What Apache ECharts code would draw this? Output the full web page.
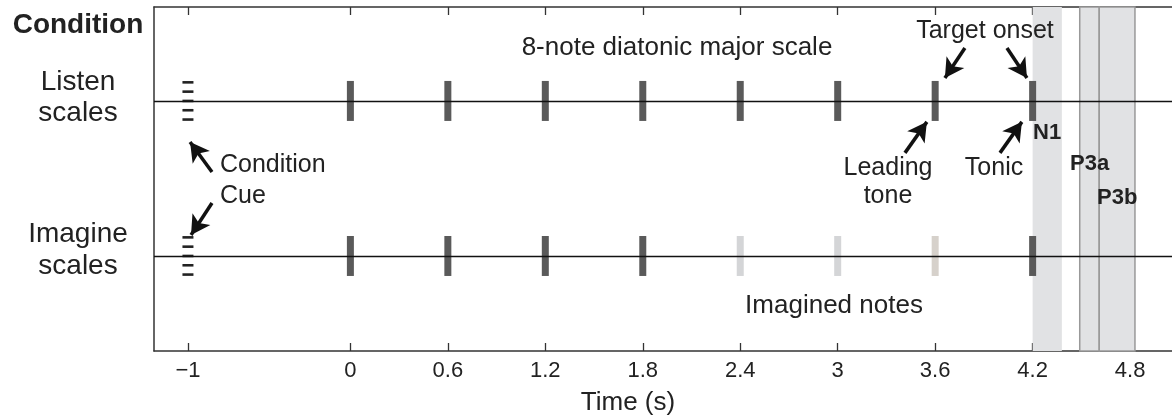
<!DOCTYPE html>
<html>
<head>
<meta charset="utf-8">
<script src="https://cdn.jsdelivr.net/npm/echarts@6/dist/echarts.min.js"></script>
<style>
html,body{margin:0;padding:0;background:#fff;}
#c{width:1172px;height:419px;}
</style>
</head>
<body>
<div id="c"></div>
<script>
// ---- data ----
const tickValues = [-1, 0, 0.6, 1.2, 1.8, 2.4, 3, 3.6, 4.2, 4.8];
const listenNotes = [0, 0.6, 1.2, 1.8, 2.4, 3.0, 3.6, 4.2];
const imaginePlayedNotes = [0, 0.6, 1.2, 1.8, 4.2];
const imagineSilentNotes = [2.4, 3.0];
const imagineLeadingNote = [3.6];
const cueTime = -1;
const cueOffsets = [-0.12, -0.06, 0, 0.06, 0.12];
const rowListen = 2;
const rowImagine = 1;
const bandN1 = [4.2, 4.38];
const bandP3a = [4.49, 4.61];
const bandP3b = [4.61, 4.83];
// arrows: [tailX, tailY, headX, headY]
const arrows = [
  [-0.852, 1.542, -0.987, 1.735],
  [-0.852, 1.342, -0.981, 1.135],
  [3.783, 2.342, 3.660, 2.148],
  [4.042, 2.342, 4.165, 2.148],
  [3.414, 1.665, 3.549, 1.865],
  [3.999, 1.665, 4.134, 1.865]
];

const FONT = "'Liberation Sans', Arial, sans-serif";
const chart = echarts.init(document.getElementById('c'));

const fmt = v => (v < 0 ? '\u2212' + Math.abs(v) : String(v));

function txt(text, x, y, opts) {
  return {
    type: 'text', x: x, y: y, z: 100, zlevel: 0,
    style: Object.assign({
      text: text, font: '25px ' + FONT, fill: '#222',
      textAlign: 'center', textVerticalAlign: 'middle'
    }, opts || {})
  };
}

const cueData = [];
[rowListen, rowImagine].forEach(r => cueOffsets.forEach(o => cueData.push([cueTime, r + o])));

const axisLineStyle = { color: '#333', width: 1.5 };
const option = {
  animation: false,
  backgroundColor: '#fff',
  grid: { left: 154, right: 0, top: 7, bottom: 68 },
  xAxis: [{
    type: 'value', min: -1.209, max: 5.058, position: 'bottom',
    axisLine: { show: true, onZero: false, lineStyle: axisLineStyle },
    axisTick: { show: true, inside: true, length: 8, customValues: tickValues, lineStyle: { color: '#333', width: 1.3 } },
    axisLabel: { show: true, customValues: tickValues, formatter: fmt, margin: 9, fontSize: 22, color: '#222', fontFamily: FONT },
    splitLine: { show: false }
  }, {
    type: 'value', min: -1.209, max: 5.058, position: 'top',
    axisLine: { show: true, onZero: false, lineStyle: axisLineStyle },
    axisTick: { show: true, inside: true, length: 8, customValues: tickValues, lineStyle: { color: '#333', width: 1.3 } },
    axisLabel: { show: false },
    splitLine: { show: false }
  }],
  yAxis: {
    type: 'value', min: 0.387, max: 2.606,
    axisLine: { show: true, onZero: false, lineStyle: axisLineStyle },
    axisTick: { show: false }, axisLabel: { show: false }, splitLine: { show: false }
  },
  series: [
    {
      name: 'bands', type: 'scatter', data: [], z: 1, silent: true,
      markArea: {
        silent: true,
        data: [
          [{ xAxis: bandN1[0], itemStyle: { color: '#e1e2e4', borderWidth: 0 } }, { xAxis: bandN1[1] }],
          [{ xAxis: bandP3a[0], itemStyle: { color: '#e1e2e4', borderColor: '#999', borderWidth: 1.5 } }, { xAxis: bandP3a[1] }],
          [{ xAxis: bandP3b[0], itemStyle: { color: '#e1e2e4', borderColor: '#999', borderWidth: 1.5 } }, { xAxis: bandP3b[1] }]
        ]
      }
    },
    {
      name: 'rows', type: 'scatter', data: [], z: 3, silent: true,
      markLine: {
        silent: true, symbol: ['none', 'none'], label: { show: false },
        lineStyle: { color: '#111', width: 1.3, type: 'solid' },
        data: [{ yAxis: rowListen }, { yAxis: rowImagine }]
      }
    },
    {
      name: 'listen', type: 'scatter', z: 4, symbol: 'rect', symbolSize: [7, 40],
      itemStyle: { color: '#5a5a5a', opacity: 1 },
      data: listenNotes.map(t => [t, rowListen])
    },
    {
      name: 'imaginePlayed', type: 'scatter', z: 4, symbol: 'rect', symbolSize: [7, 40],
      itemStyle: { color: '#5a5a5a', opacity: 1 },
      data: imaginePlayedNotes.map(t => [t, rowImagine])
    },
    {
      name: 'imagineSilent', type: 'scatter', z: 4, symbol: 'rect', symbolSize: [7, 40],
      itemStyle: { color: '#d4d5d7', opacity: 1 },
      data: imagineSilentNotes.map(t => [t, rowImagine])
    },
    {
      name: 'imagineLeading', type: 'scatter', z: 4, symbol: 'rect', symbolSize: [7, 40],
      itemStyle: { color: '#d6d1cb', opacity: 1 },
      data: imagineLeadingNote.map(t => [t, rowImagine])
    },
    {
      name: 'cue', type: 'scatter', z: 4, symbol: 'rect', symbolSize: [11, 2.6],
      itemStyle: { color: '#222', opacity: 1 },
      data: cueData
    },
    {
      name: 'arrows', type: 'scatter', data: [], z: 5, silent: true,
      markLine: {
        silent: true, symbol: ['none', 'arrow'], symbolSize: [16, 19],
        label: { show: false },
        lineStyle: { color: '#111', width: 3.5, type: 'solid' },
        itemStyle: { color: '#111' },
        data: arrows.map(a => [{ coord: [a[0], a[1]] }, { coord: [a[2], a[3]] }])
      }
    }
  ],
  graphic: [
    txt('Condition', 78, 25, { font: 'bold 28px ' + FONT }),
    txt('Listen', 78, 82, { font: '28px ' + FONT }),
    txt('scales', 78, 113, { font: '28px ' + FONT }),
    txt('Imagine', 78, 234, { font: '28px ' + FONT }),
    txt('scales', 78, 266, { font: '28px ' + FONT }),
    txt('8-note diatonic major scale', 677, 48, { font: '26px ' + FONT }),
    txt('Target onset', 985, 31),
    txt('Condition', 220, 165, { textAlign: 'left' }),
    txt('Cue', 220, 196, { textAlign: 'left' }),
    txt('Leading', 888, 168),
    txt('tone', 888, 196),
    txt('Tonic', 994, 168),
    txt('N1', 1033, 133, { textAlign: 'left', font: 'bold 22px ' + FONT }),
    txt('P3a', 1070, 164, { textAlign: 'left', font: 'bold 22px ' + FONT }),
    txt('P3b', 1097, 198, { textAlign: 'left', font: 'bold 22px ' + FONT }),
    txt('Imagined notes', 834, 306, { font: '26px ' + FONT }),
    txt('Time (s)', 628, 403, { font: '26px ' + FONT })
  ]
};
chart.setOption(option);
</script>
</body>
</html>
